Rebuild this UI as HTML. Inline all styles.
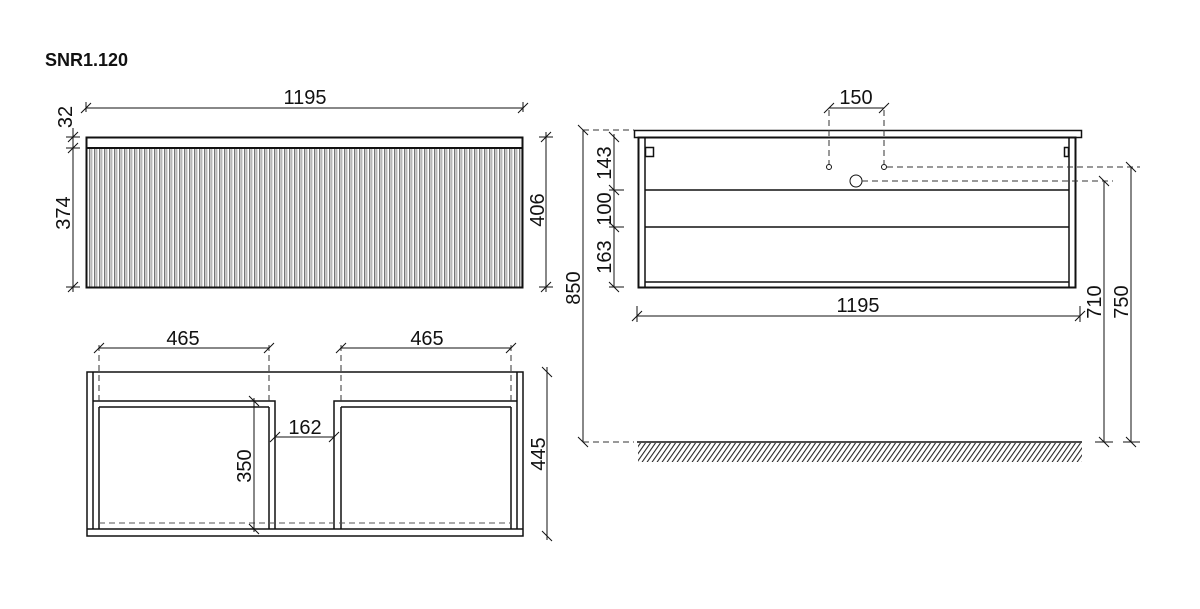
<!DOCTYPE html>
<html><head><meta charset="utf-8"><style>
html,body{margin:0;padding:0;background:#fff;width:1200px;height:609px;overflow:hidden}
svg{display:block}
text{font-family:"Liberation Sans",sans-serif;font-size:20px;fill:#111}
</style></head><body>
<svg width="1200" height="609" viewBox="0 0 1200 609" xmlns="http://www.w3.org/2000/svg">
<defs>
<pattern id="fl" x="88" y="0" width="5" height="10" patternUnits="userSpaceOnUse">
<rect x="0" y="0" width="5" height="10" fill="#fff"/>
<rect x="1" y="0" width="1.4" height="10" fill="#777"/>
<rect x="3.3" y="0" width="1" height="10" fill="#999"/>
</pattern>
<pattern id="hatch" width="5" height="20" patternUnits="userSpaceOnUse" patternTransform="skewX(-35)">
<rect x="0" y="0" width="1.3" height="20" fill="#222"/>
</pattern>
</defs>
<text x="45" y="66" style="font-weight:bold;font-size:18px">SNR1.120</text>

<g stroke="#111" fill="none" stroke-width="1">
<rect x="87" y="148" width="435" height="139" fill="url(#fl)" stroke="none"/>
<rect x="86.5" y="137.5" width="436" height="150" stroke-width="2"/>
<line x1="86" y1="148" x2="522" y2="148" stroke-width="2"/>
<line x1="86" y1="108" x2="523" y2="108"/>
<line x1="86" y1="102" x2="86" y2="112"/>
<line x1="523" y1="102" x2="523" y2="112"/>
<path d="M81 113 L91 103 M518 113 L528 103"/>
<line x1="73" y1="128" x2="73" y2="292"/>
<path d="M68 142 L78 132 M68 153 L78 143 M68 292 L78 282"/>
<line x1="66" y1="137" x2="80" y2="137"/><line x1="66" y1="148" x2="80" y2="148"/><line x1="66" y1="287" x2="80" y2="287"/>
<line x1="546" y1="132" x2="546" y2="292"/>
<line x1="539" y1="137" x2="553" y2="137"/><line x1="539" y1="287" x2="553" y2="287"/>
<path d="M541 142 L551 132 M541 292 L551 282"/>

<rect x="87" y="372" width="436" height="164" stroke-width="1.5"/>
<line x1="87" y1="529" x2="523" y2="529" stroke-width="1.5"/>
<line x1="93" y1="372" x2="93" y2="529" stroke-width="1.5"/>
<line x1="99" y1="407" x2="99" y2="529" stroke-width="1.5"/>
<line x1="517" y1="372" x2="517" y2="529" stroke-width="1.5"/>
<line x1="511" y1="407" x2="511" y2="529" stroke-width="1.5"/>
<path d="M93 401 L275 401 L275 529 M269 407 L269 529 M99 407 L269 407" stroke-width="1.5"/>
<path d="M517 401 L334 401 L334 529 M341 407 L341 529 M341 407 L511 407" stroke-width="1.5"/>
<line x1="99" y1="523" x2="511" y2="523" stroke-dasharray="6,4" stroke="#555"/>
<g stroke-dasharray="6,4" stroke="#333">
<line x1="99" y1="345" x2="99" y2="401"/><line x1="269" y1="345" x2="269" y2="401"/>
<line x1="341" y1="345" x2="341" y2="401"/><line x1="511" y1="345" x2="511" y2="401"/>
</g>
<line x1="99" y1="348" x2="269" y2="348"/><line x1="341" y1="348" x2="511" y2="348"/>
<path d="M94 353 L104 343 M264 353 L274 343 M336 353 L346 343 M506 353 L516 343"/>
<line x1="275" y1="437" x2="334" y2="437"/>
<path d="M270 442 L280 432 M329 442 L339 432"/>
<line x1="254" y1="398" x2="254" y2="532"/>
<path d="M249 396 L259 406 M249 524 L259 534"/>
<line x1="547" y1="367" x2="547" y2="540"/>
<path d="M542 367 L552 377 M542 531 L552 541"/>

<rect x="634.5" y="130.5" width="447" height="7" stroke-width="1.5"/>
<rect x="638.5" y="137.5" width="437" height="150" stroke-width="2"/>
<line x1="645" y1="137" x2="645" y2="287" stroke-width="1.5"/>
<line x1="1069" y1="137" x2="1069" y2="287" stroke-width="1.5"/>
<line x1="645" y1="190" x2="1069" y2="190" stroke-width="1.5"/>
<line x1="645" y1="227" x2="1069" y2="227" stroke-width="1.5"/>
<line x1="645" y1="282" x2="1069" y2="282" stroke-width="1.5"/>
<rect x="645.5" y="147.5" width="8" height="9" stroke-width="1.5"/>
<rect x="1064.5" y="147.5" width="4" height="9" stroke-width="1.5"/>
<circle cx="829" cy="167" r="2.5"/><circle cx="884" cy="167" r="2.5"/>
<circle cx="856" cy="181" r="6"/>
<g stroke-dasharray="6,4" stroke="#333">
<line x1="829" y1="110" x2="829" y2="164"/><line x1="884" y1="110" x2="884" y2="164"/>
<line x1="887" y1="167" x2="1140" y2="167"/>
<line x1="862" y1="181" x2="1113" y2="181"/>
<line x1="583" y1="130" x2="634" y2="130"/>
<line x1="583" y1="442" x2="634" y2="442"/>
</g>
<line x1="829" y1="108" x2="884" y2="108"/>
<path d="M824 113 L834 103 M879 113 L889 103"/>
<line x1="583" y1="130" x2="583" y2="442"/>
<path d="M578 125 L588 135 M578 437 L588 447"/>
<line x1="614" y1="134" x2="614" y2="287"/>
<path d="M609 132 L619 142 M609 185 L619 195 M609 222 L619 232 M609 282 L619 292"/>
<line x1="609" y1="190" x2="624" y2="190"/><line x1="609" y1="227" x2="624" y2="227"/><line x1="609" y1="287" x2="624" y2="287"/>
<line x1="637" y1="316" x2="1080" y2="316"/>
<path d="M632 321 L642 311 M1075 321 L1085 311"/>
<line x1="637" y1="306" x2="637" y2="322"/><line x1="1080" y1="306" x2="1080" y2="322"/>
<line x1="1104" y1="181" x2="1104" y2="442"/>
<path d="M1099 176 L1109 186 M1099 437 L1109 447"/>
<line x1="1131" y1="167" x2="1131" y2="442"/>
<path d="M1126 162 L1136 172 M1126 437 L1136 447"/>
<line x1="1095" y1="442" x2="1113" y2="442"/><line x1="1123" y1="442" x2="1140" y2="442"/>
<rect x="638" y="443" width="444" height="19" fill="url(#hatch)" stroke="none"/>
<line x1="637" y1="442" x2="1082" y2="442" stroke-width="1.5"/>
</g>

<text x="305" y="104" text-anchor="middle">1195</text>
<text transform="translate(72,117) rotate(-90)" text-anchor="middle">32</text>
<text transform="translate(70,213) rotate(-90)" text-anchor="middle">374</text>
<text transform="translate(544,210) rotate(-90)" text-anchor="middle">406</text>
<text x="183" y="345" text-anchor="middle">465</text>
<text x="427" y="345" text-anchor="middle">465</text>
<text x="305" y="434" text-anchor="middle">162</text>
<text transform="translate(251,466) rotate(-90)" text-anchor="middle">350</text>
<text transform="translate(545,454) rotate(-90)" text-anchor="middle">445</text>
<text x="856" y="104" text-anchor="middle">150</text>
<text transform="translate(611,163) rotate(-90)" text-anchor="middle">143</text>
<text transform="translate(611,209) rotate(-90)" text-anchor="middle">100</text>
<text transform="translate(611,257) rotate(-90)" text-anchor="middle">163</text>
<text transform="translate(580,288) rotate(-90)" text-anchor="middle">850</text>
<text x="858" y="312" text-anchor="middle">1195</text>
<text transform="translate(1101,302) rotate(-90)" text-anchor="middle">710</text>
<text transform="translate(1128,302) rotate(-90)" text-anchor="middle">750</text>
</svg>
</body></html>
